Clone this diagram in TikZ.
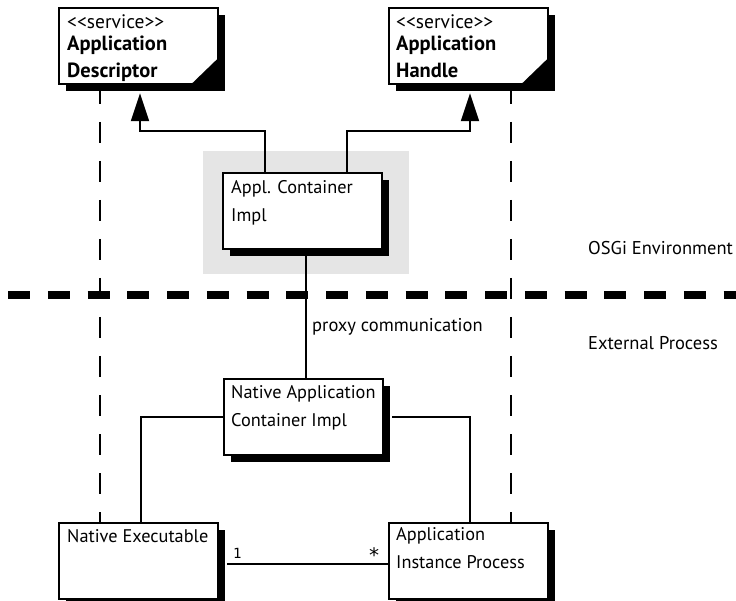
\documentclass[tikz,border=0pt]{standalone}
\usepackage{fontspec}
\setmainfont{PT Sans}
\newfontfamily\monofont{DejaVu Sans Mono}
\usetikzlibrary{arrows.meta,shadows}

\begin{document}
\begin{tikzpicture}[x=1pt,y=-1pt,
  umlbox/.style={draw, line width=2.2pt, fill=white, minimum width=159pt,
    minimum height=76pt, inner sep=0pt, anchor=north west,
    general shadow={fill=black, shadow xshift=7pt, shadow yshift=-7pt}},
  boxtext/.style={anchor=north west, inner sep=0pt, align=left,
    font=\fontsize{18.3}{28}\selectfont},
  conn/.style={line width=2pt},
  lifeline/.style={line width=2pt, dash pattern=on 21pt off 18pt},
  envline/.style={line width=8.5pt, dash pattern=on 22pt off 17.75pt},
  plaintext/.style={inner sep=0pt, anchor=base west, font=\fontsize{18.5}{28}\selectfont},
  mult/.style={inner sep=0pt, anchor=base west, font=\monofont\fontsize{14}{16}\selectfont},
  umltip/.style={-{Triangle[length=28pt,width=18pt]}}
]
\useasboundingbox (0,0) rectangle (736,601);

% OSGi background
\node[fill=black!10, minimum width=206pt, minimum height=123pt, inner sep=0pt,
  anchor=north west] (osgibg) at (203,151) {};

\coordinate (envL) at (8,295);
\coordinate (envR) at (736,295);

\path (58,7) coordinate (descpos)
      (388,7) coordinate (handlepos)
      (222,172) coordinate (acpos)
      (223,378) coordinate (nacpos)
      (58,522) coordinate (nexpos)
      (388,522) coordinate (aippos);

% lifelines
\draw[lifeline] ([xshift=42pt,yshift=-76pt]descpos) -- ([xshift=42pt]nexpos);
\draw[lifeline] ([xshift=123pt,yshift=-76pt]handlepos) -- ([xshift=123pt]aippos);

% environment separator
\draw[envline] (envL) -- (envR);

% boxes
\node[umlbox] (desc) at (descpos) {};
\node[umlbox] (handle) at (handlepos) {};
\node[umlbox] (acimpl) at (acpos) {};
\node[umlbox] (nacimpl) at (nacpos) {};
\node[umlbox] (nexec) at (nexpos) {};
\node[umlbox] (aip) at (aippos) {};

% corner triangles
\fill ([xshift=-29pt]desc.south east) -- (desc.south east) -- ([yshift=28pt]desc.south east) -- cycle;
\fill ([xshift=-29pt]handle.south east) -- (handle.south east) -- ([yshift=28pt]handle.south east) -- cycle;

\coordinate (dtip) at ([xshift=82pt,yshift=-8pt]desc.south west);
\coordinate (htip) at ([xshift=82pt,yshift=-8pt]handle.south west);

% connectors
\draw[conn,umltip] ([xshift=43pt]acimpl.north west) -- ++(0,-41) -| (dtip);
\draw[conn,umltip] ([xshift=125pt]acimpl.north west) -- ++(0,-41) -| (htip);
\draw[conn] ([xshift=84pt,yshift=-1pt]acimpl.south west) -- ([xshift=84pt]acimpl.south west |- nacimpl.north);
\draw[conn] (nacimpl.west) -| ([xshift=83pt]nexec.north west);
\draw[conn] ([xshift=8pt]nacimpl.east) -| ([xshift=82pt]aip.north west);
\draw[conn] ([xshift=8pt,yshift=-3pt]nexec.east) -- ([yshift=-3pt]aip.west);

% texts
\node[boxtext] (desct) at ([xshift=9pt,yshift=-1.4pt]desc.north west)
  {\strut{\fontsize{19.5}{28}\selectfont <{}<service>{}>}\\[-6pt]
   \strut{\fontsize{20.5}{28}\selectfont\bfseries Application}\\[-1pt]
   \strut{\fontsize{20.5}{28}\selectfont\bfseries Descriptor}};
\node[boxtext] (handlet) at ([xshift=8pt,yshift=-1.4pt]handle.north west)
  {\strut{\fontsize{19.5}{28}\selectfont <{}<service>{}>}\\[-6pt]
   \strut{\fontsize{20.5}{28}\selectfont\bfseries Application}\\[-1pt]
   \strut{\fontsize{20.5}{28}\selectfont\bfseries Handle}};
\node[boxtext] (acimplt) at ([xshift=9pt,yshift=-1.4pt]acimpl.north west)
  {\strut Appl. Container\\\strut Impl};
\node[boxtext] (nacimplt) at ([xshift=8pt,yshift=-0.5pt]nacimpl.north west)
  {\strut Native Application\\\strut Container Impl};
\node[boxtext] (nexect) at ([xshift=9pt,yshift=-0.5pt]nexec.north west)
  {\strut Native Executable};
\node[boxtext] (aipt) at ([xshift=8pt,yshift=1pt]aip.north west)
  {\strut Application\\\strut Instance Process};

\node[plaintext] (proxy) at (312,332) {proxy communication};
\node[plaintext] (osgi) at (588,255) {OSGi Environment};
\node[plaintext] (ext) at (588,350) {External Process};

\node[mult] (m1) at (233,558) {1};
\node[mult, font=\monofont\fontsize{20}{22}\selectfont] (mstar) at (368,562) {*};
\end{tikzpicture}
\end{document}
